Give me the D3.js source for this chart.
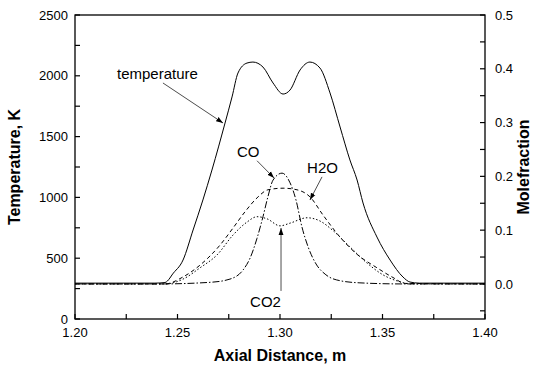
<!DOCTYPE html>
<html>
<head>
<meta charset="utf-8">
<script src="https://cdn.jsdelivr.net/npm/d3@7"></script>
<style>
  body { margin: 0; background: #fff; }
  text { font-family: Arial, "Liberation Sans", sans-serif; fill: #000; }
</style>
</head>
<body>
<script>
// temperature profile (K) vs axial distance (m)
const tempX = [1.200, 1.239, 1.2439, 1.2463, 1.2473, 1.2527, 1.2576, 1.2624, 1.2668, 1.2732, 1.2766, 1.2795, 1.2839, 1.2868, 1.2917, 1.2966, 1.3015, 1.3049, 1.3098, 1.3146, 1.3195, 1.3244, 1.3293, 1.3341, 1.3376, 1.3405, 1.3473, 1.3537, 1.3600, 1.3634, 1.368, 1.400];
const tempK = [295, 295, 300, 337, 362, 485, 732, 979, 1225, 1612, 1826, 2023, 2105, 2113, 2072, 1941, 1850, 1883, 2048, 2113, 2064, 1859, 1579, 1308, 1143, 954, 674, 485, 345, 304, 295, 295];

// mole fractions
const coX = [1.200, 1.2415, 1.2659, 1.2756, 1.282, 1.2854, 1.2888, 1.2917, 1.2941, 1.2966, 1.301, 1.3049, 1.3078, 1.3107, 1.3137, 1.3176, 1.3224, 1.3293, 1.339, 1.36, 1.400];
const coVal = [0, 0, 0.003, 0.009, 0.026, 0.048, 0.085, 0.125, 0.162, 0.193, 0.206, 0.188, 0.156, 0.106, 0.069, 0.037, 0.017, 0.006, 0.002, 0, 0];

const h2oX = [1.200, 1.2439, 1.2527, 1.261, 1.2707, 1.2771, 1.2829, 1.2888, 1.2941, 1.3015, 1.3083, 1.3146, 1.321, 1.3293, 1.3376, 1.3473, 1.3551, 1.361, 1.400];
const h2oVal = [0, 0, 0.013, 0.035, 0.072, 0.104, 0.134, 0.160, 0.175, 0.178, 0.175, 0.162, 0.128, 0.087, 0.055, 0.030, 0.012, 0.001, 0];

const co2X = [1.200, 1.2439, 1.2527, 1.261, 1.2693, 1.2771, 1.2839, 1.2888, 1.2937, 1.300, 1.3049, 1.3132, 1.3195, 1.3259, 1.3341, 1.3424, 1.3502, 1.3585, 1.3634, 1.400];
const co2Val = [0, 0, 0.009, 0.030, 0.054, 0.091, 0.115, 0.125, 0.121, 0.108, 0.113, 0.123, 0.117, 0.099, 0.069, 0.039, 0.017, 0.004, 0, 0];

const xTicks = [1.20, 1.25, 1.30, 1.35, 1.40];
const yTicks = [0, 500, 1000, 1500, 2000, 2500];
const y2Ticks = [0.0, 0.1, 0.2, 0.3, 0.4, 0.5];

const width = 537, height = 369;
const m = {left: 75, right: 485, top: 15, bottom: 319};

const x = d3.scaleLinear().domain([1.20, 1.40]).range([m.left, m.right]);
const y = d3.scaleLinear().domain([0, 2500]).range([m.bottom, m.top]);
const y2 = d3.scaleLinear().domain([-0.0652, 0.5]).range([m.bottom, m.top]);

const svg = d3.select("body").append("svg")
    .attr("width", width)
    .attr("height", height);

const defs = svg.append('defs');
defs.append('marker')
    .attr('id', 'arrow')
    .attr('viewBox', '0 0 10 10')
    .attr('refX', 10).attr('refY', 5)
    .attr('markerWidth', 7).attr('markerHeight', 7)
    .attr('markerUnits', 'userSpaceOnUse')
    .attr('orient', 'auto')
  .append('path')
    .attr('d', 'M0,1.5 L10,5 L0,8.5 Z')
    .attr('fill', '#000');

// curves
function drawLine(xs, vs, scale, dash) {
    const line = d3.line()
        .x((d, i) => x(xs[i]))
        .y(d => scale(d))
        .curve(d3.curveMonotoneX);
    svg.append('path')
        .attr('d', line(vs))
        .attr('fill', 'none')
        .attr('stroke', '#000')
        .attr('stroke-width', 1)
        .attr('stroke-dasharray', dash);
}
drawLine(coX, coVal, y2, '7,2,1.5,2');
drawLine(h2oX, h2oVal, y2, '4,3');
drawLine(co2X, co2Val, y2, '1.5,2');
drawLine(tempX, tempK, y, null);

// axes (ticks pointing inward)
const axisG = svg.append('g');
axisG.append('rect')
    .attr('x', m.left).attr('y', m.top)
    .attr('width', m.right - m.left).attr('height', m.bottom - m.top)
    .attr('fill', 'none').attr('stroke', '#000').attr('stroke-width', 1.3);

axisG.selectAll('.xt').data(d3.range(0, 9).map(i => 1.2 + i * 0.025))
  .enter().append('line')
    .attr('x1', d => x(d)).attr('x2', d => x(d))
    .attr('y1', m.bottom).attr('y2', m.bottom - 5)
    .attr('stroke', '#000').attr('stroke-width', 1.2);
axisG.selectAll('.xl').data(xTicks)
  .enter().append('text')
    .attr('x', d => x(d)).attr('y', 337)
    .attr('text-anchor', 'middle')
    .attr('font-size', 13)
    .text(d => d.toFixed(2));

axisG.selectAll('.yt').data(d3.range(0, 11).map(i => i * 250))
  .enter().append('line')
    .attr('x1', m.left).attr('x2', m.left + 5)
    .attr('y1', d => y(d)).attr('y2', d => y(d))
    .attr('stroke', '#000').attr('stroke-width', 1.2);
axisG.selectAll('.yl').data(yTicks)
  .enter().append('text')
    .attr('x', 68).attr('y', d => y(d))
    .attr('dy', '0.36em')
    .attr('text-anchor', 'end')
    .attr('font-size', 13)
    .text(d => d);

axisG.selectAll('.y2t').data(d3.range(-1, 11).map(i => i * 0.05))
  .enter().append('line')
    .attr('x1', m.right).attr('x2', m.right - 5)
    .attr('y1', d => y2(d)).attr('y2', d => y2(d))
    .attr('stroke', '#000').attr('stroke-width', 1.2);
axisG.selectAll('.y2l').data(y2Ticks)
  .enter().append('text')
    .attr('x', 495).attr('y', d => y2(d))
    .attr('dy', '0.36em')
    .attr('font-size', 13)
    .text(d => d.toFixed(1));

// axis titles
svg.append('text')
    .attr('x', (m.left + m.right) / 2).attr('y', 361)
    .attr('text-anchor', 'middle')
    .attr('font-size', 16).attr('font-weight', 'bold')
    .text('Axial Distance, m');
svg.append('text')
    .attr('transform', `translate(20,${(m.top + m.bottom) / 2}) rotate(-90)`)
    .attr('text-anchor', 'middle')
    .attr('font-size', 16).attr('font-weight', 'bold')
    .text('Temperature, K');
svg.append('text')
    .attr('transform', `translate(529,${(m.top + m.bottom) / 2}) rotate(-90)`)
    .attr('text-anchor', 'middle')
    .attr('font-size', 16).attr('font-weight', 'bold')
    .text('Molefraction');

// annotations
function arrow(x1, v1, x2, v2, scale) {
    svg.append('line')
        .attr('x1', x(x1)).attr('y1', scale(v1))
        .attr('x2', x(x2)).attr('y2', scale(v2))
        .attr('stroke', '#000').attr('stroke-width', 0.7)
        .attr('marker-end', 'url(#arrow)');
}
function label(xv, v, scale, txt) {
    svg.append('text')
        .attr('x', x(xv)).attr('y', scale(v))
        .attr('font-size', 15)
        .text(txt);
}
label(1.2205, 1974, y, 'temperature');
arrow(1.2429, 1941, 1.2722, 1612, y);
label(1.279, 0.236, y2, 'CO');
arrow(1.2888, 0.229, 1.2971, 0.197, y2);
label(1.3132, 0.206, y2, 'H2O');
arrow(1.3205, 0.199, 1.3146, 0.156, y2);
label(1.2854, -0.043, y2, 'CO2');
arrow(1.3005, -0.013, 1.3005, 0.104, y2);
</script>
</body>
</html>
